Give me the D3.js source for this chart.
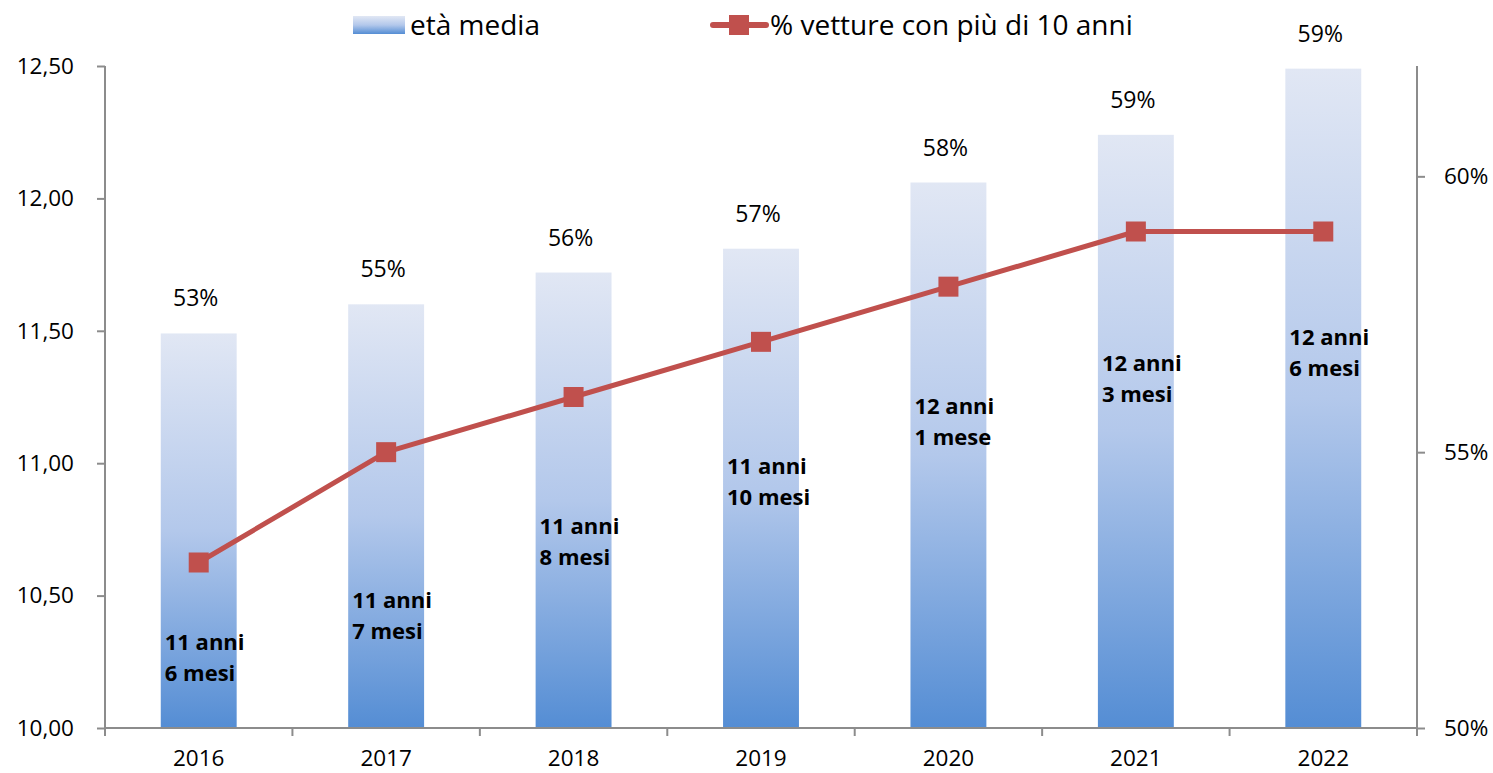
<!DOCTYPE html>
<html>
<head>
<meta charset="utf-8">
<script src="https://cdn.jsdelivr.net/npm/d3@7"></script>
<style>
  html, body { margin: 0; padding: 0; background: #fff; }
  svg { display: block; font-family: "Open Sans", sans-serif; }
</style>
</head>
<body>
<svg id="chart" width="1493" height="773"></svg>
<script>
// ---- data ----
const years = ["2016", "2017", "2018", "2019", "2020", "2021", "2022"];
const etaMedia = [11.49, 11.60, 11.72, 11.81, 12.06, 12.24, 12.49];
const pctOver10 = [0.53, 0.55, 0.56, 0.57, 0.58, 0.59, 0.59];
const pctLabels = ["53%", "55%", "56%", "57%", "58%", "59%", "59%"];
const ageLine1 = ["11 anni", "11 anni", "11 anni", "11 anni", "12 anni", "12 anni", "12 anni"];
const ageLine2 = ["6 mesi", "7 mesi", "8 mesi", "10 mesi", "1 mese", "3 mesi", "6 mesi"];
const ageLabelAt = [10.295, 10.453, 10.733, 10.959, 11.186, 11.348, 11.446];
const leftTicks = [10, 10.5, 11, 11.5, 12, 12.5];
const rightTicks = [0.50, 0.55, 0.60];
const seriesNames = ["età media", "% vetture con più di 10 anni"];

// ---- layout ----
const svg = d3.select("#chart");
const L = 105, R = 1417, T = 66, B = 728;
const axisColor = "#8c8c8c";
const lineColor = "#c0504d";

const x = d3.scaleBand().domain(years).range([L, R]).padding(0);
const step = x.step();
const bw = step * 0.405;
const yL = d3.scaleLinear().domain([10, 12.5]).range([B, T]);
const yR = d3.scaleLinear().domain([0.50, 0.62]).range([B, T]);

const itLocale = d3.formatLocale({decimal: ",", thousands: ".", grouping: [3], currency: ["€", ""]});
const fmtL = itLocale.format(".2f");
const fmtR = d3.format(".0%");

// gradient
const defs = svg.append("defs");
const grad = defs.append("linearGradient").attr("id", "barGrad")
  .attr("x1", 0).attr("y1", 0).attr("x2", 0).attr("y2", 1);
grad.append("stop").attr("offset", "0%").attr("stop-color", "#e1e7f4");
grad.append("stop").attr("offset", "50%").attr("stop-color", "#b3c8eb");
grad.append("stop").attr("offset", "100%").attr("stop-color", "#548dd4");

// bars
svg.append("g").selectAll("rect").data(years).join("rect")
  .attr("x", d => x(d) + (step - bw) / 2)
  .attr("width", bw)
  .attr("y", (d, i) => yL(etaMedia[i]))
  .attr("height", (d, i) => yL(10) - yL(etaMedia[i]))
  .attr("fill", "url(#barGrad)");

// left axis
const gL = svg.append("g").attr("transform", `translate(${L},0)`)
  .call(d3.axisLeft(yL).tickValues(leftTicks).tickFormat(fmtL).tickSize(8).tickSizeOuter(0).tickPadding(23));
// right axis
const gR = svg.append("g").attr("transform", `translate(${R},0)`)
  .call(d3.axisRight(yR).tickValues(rightTicks).tickFormat(fmtR).tickSize(8).tickSizeOuter(0).tickPadding(19));
// bottom axis (labels)
const gB = svg.append("g").attr("transform", `translate(0,${B})`)
  .call(d3.axisBottom(x).tickSize(0).tickPadding(22));
gB.select(".domain").remove();

[gL, gR].forEach(g => {
  g.select(".domain").remove();
  g.selectAll(".tick line").attr("stroke", axisColor).attr("stroke-width", 2);
});
[gL, gR, gB].forEach(g => {
  g.selectAll(".tick text").attr("font-size", 22.5).attr("fill", "#000")
    .attr("font-family", "'Open Sans', sans-serif");
});

// axis lines
const axes = svg.append("g").attr("stroke", axisColor).attr("stroke-width", 2);
axes.append("line").attr("x1", L).attr("x2", L).attr("y1", yL(12.5)).attr("y2", B + 8);
axes.append("line").attr("x1", R).attr("x2", R).attr("y1", yR(0.62)).attr("y2", B + 8);
axes.append("line").attr("x1", L).attr("x2", R).attr("y1", B).attr("y2", B);
// category boundary ticks
const bounds = years.map(d => x(d)).concat([R]);
axes.selectAll("line.bt").data(bounds).join("line").attr("class", "bt")
  .attr("x1", d => d).attr("x2", d => d).attr("y1", B).attr("y2", B + 8);

// percent labels above bars
svg.append("g").selectAll("text").data(years).join("text")
  .attr("x", d => x(d) + step / 2 - 3)
  .attr("y", (d, i) => yL(etaMedia[i]) - 27)
  .attr("text-anchor", "middle")
  .attr("font-size", 23)
  .attr("fill", "#000")
  .text((d, i) => pctLabels[i]);

// line series
const line = d3.line().x(d => x(d) + step / 2).y((d, i) => yR(pctOver10[i]));
svg.append("path").datum(years).attr("d", line)
  .attr("fill", "none").attr("stroke", lineColor).attr("stroke-width", 5).attr("stroke-linejoin", "round");
svg.append("g").selectAll("rect").data(years).join("rect")
  .attr("x", d => x(d) + step / 2 - 10)
  .attr("y", (d, i) => yR(pctOver10[i]) - 10)
  .attr("width", 20).attr("height", 20)
  .attr("fill", lineColor);

// age labels inside bars
const ageG = svg.append("g").attr("font-size", 22).attr("font-weight", "bold").attr("fill", "#000");
years.forEach((d, i) => {
  const lx = x(d) + (step - bw) / 2 + 4;
  const t = ageG.append("text").attr("x", lx).attr("y", yL(ageLabelAt[i]));
  t.append("tspan").attr("x", lx).text(ageLine1[i]);
  t.append("tspan").attr("x", lx).attr("dy", 31).text(ageLine2[i]);
});

// legend
const lg = svg.append("g");
lg.append("rect").attr("x", 353).attr("y", 16).attr("width", 52).attr("height", 18).attr("fill", "url(#barGrad)");
lg.append("text").attr("x", 410).attr("y", 25).attr("dy", "0.35em").attr("font-size", 28).attr("fill", "#000").text(seriesNames[0]);
lg.append("line").attr("x1", 713).attr("x2", 766).attr("y1", 25).attr("y2", 25)
  .attr("stroke", lineColor).attr("stroke-width", 6).attr("stroke-linecap", "round");
lg.append("rect").attr("x", 729).attr("y", 15).attr("width", 20).attr("height", 20).attr("fill", lineColor);
lg.append("text").attr("x", 770).attr("y", 25).attr("dy", "0.35em").attr("font-size", 28).attr("fill", "#000").text(seriesNames[1]);
</script>
</body>
</html>
